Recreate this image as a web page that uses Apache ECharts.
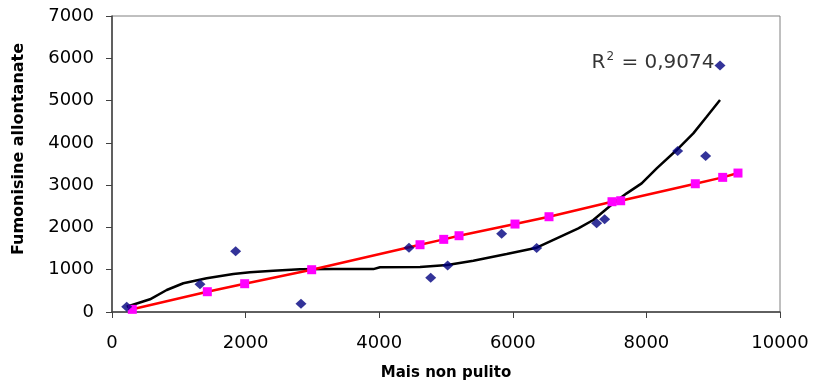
<!DOCTYPE html>
<html>
<head>
<meta charset="utf-8">
<script src="https://cdn.jsdelivr.net/npm/echarts@6/dist/echarts.min.js"></script>
<style>html,body{margin:0;padding:0;background:#fff}#c{width:814px;height:380px}</style>
</head>
<body>
<div id="c"></div>
<script>
// Blue diamonds (observed)
const blueX = [220, 1317, 1851, 2829, 4446, 4771, 5025, 5833, 6357, 7255, 7375, 8468, 8887, 9102];
const blueY = [125, 655, 1435, 196, 1520, 811, 1100, 1852, 1513, 2096, 2191, 3806, 3688, 5832];
// Pink squares (observed) joined by red line
const pinkX = [304, 1427, 1986, 2989, 4611, 4966, 5195, 6033, 6542, 7485, 7615, 8732, 9142, 9371];
const pinkY = [63, 480, 669, 1000, 1591, 1718, 1804, 2080, 2253, 2608, 2631, 3033, 3184, 3286];
// Black trend curve
const curveX = [220, 569, 819, 1068, 1417, 1816, 2066, 2415, 2814, 3313, 3912, 4012, 4611, 5020, 5409, 5908, 6357, 6657, 6981, 7205, 7505, 7705, 7929, 8154, 8453, 8702, 8902, 9102];
const curveY = [125, 300, 520, 680, 796, 898, 938, 976, 1009, 1015, 1015, 1060, 1065, 1111, 1210, 1370, 1520, 1741, 1978, 2175, 2570, 2806, 3042, 3397, 3830, 4225, 4617, 5012];
const r2Value = '0,9074';
const xTitle = 'Mais non pulito';
const yTitle = 'Fumonisine allontanate';

const zip = (a, b) => a.map((v, i) => [v, b[i]]);
const font = 'DejaVu Sans';
const blueData = zip(blueX, blueY).map((p, i, arr) => {
  if (i === arr.length - 1) {
    return {
      value: p,
      label: {
        show: true, position: 'left', distance: 0, offset: [0, -3],
        formatter: '{a|R}{b|2}{a| = ' + r2Value + '}',
        rich: {
          a: { fontFamily: font, fontSize: 20, color: '#000' },
          b: { fontFamily: font, fontSize: 12, color: '#000', padding: [0, 1, 12, 1] }
        }
      }
    };
  }
  return p;
});

const chart = echarts.init(document.getElementById('c'), null, { renderer: 'canvas' });
chart.setOption({
  animation: false,
  backgroundColor: '#fff',
  grid: { left: 112, right: 34, top: 16, bottom: 68, show: true, borderColor: '#808080', borderWidth: 1, containLabel: false, outerBoundsMode: 'none' },
  xAxis: {
    type: 'value', min: 0, max: 10000, interval: 2000,
    name: xTitle, nameLocation: 'middle', nameGap: 54,
    nameTextStyle: { fontFamily: font, fontSize: 15, fontWeight: 'bold', color: '#000' },
    axisLine: { show: true, lineStyle: { color: '#404040', width: 1.5 } },
    axisTick: { show: true, length: 6, lineStyle: { color: '#404040' } },
    axisLabel: { fontFamily: font, fontSize: 18, color: '#000', margin: 22, formatter: v => String(v) },
    splitLine: { show: false }
  },
  yAxis: {
    type: 'value', min: 0, max: 7000, interval: 1000,
    name: yTitle, nameLocation: 'middle', nameGap: 85,
    nameTextStyle: { fontFamily: font, fontSize: 16, fontWeight: 'bold', color: '#000', padding: [0, 0, 0, 30] },
    axisLine: { show: true, lineStyle: { color: '#404040', width: 1.5 } },
    axisTick: { show: true, length: 6, lineStyle: { color: '#404040' } },
    axisLabel: { fontFamily: font, fontSize: 18, color: '#000', margin: 18, formatter: v => String(v) },
    splitLine: { show: false }
  },
  series: [
    {
      type: 'line', data: zip(curveX, curveY), showSymbol: false, symbol: 'none',
      lineStyle: { color: '#000', width: 2.5 }, z: 2
    },
    {
      type: 'line', data: zip(pinkX, pinkY), symbol: 'rect', symbolSize: 9,
      itemStyle: { color: '#FF00FF' },
      lineStyle: { color: '#FF0000', width: 2.5 }, z: 3
    },
    {
      type: 'scatter', data: blueData, symbol: 'diamond', symbolSize: [11, 10],
      itemStyle: { color: '#000080' }, z: 4
    }
  ]
});
</script>
</body>
</html>
